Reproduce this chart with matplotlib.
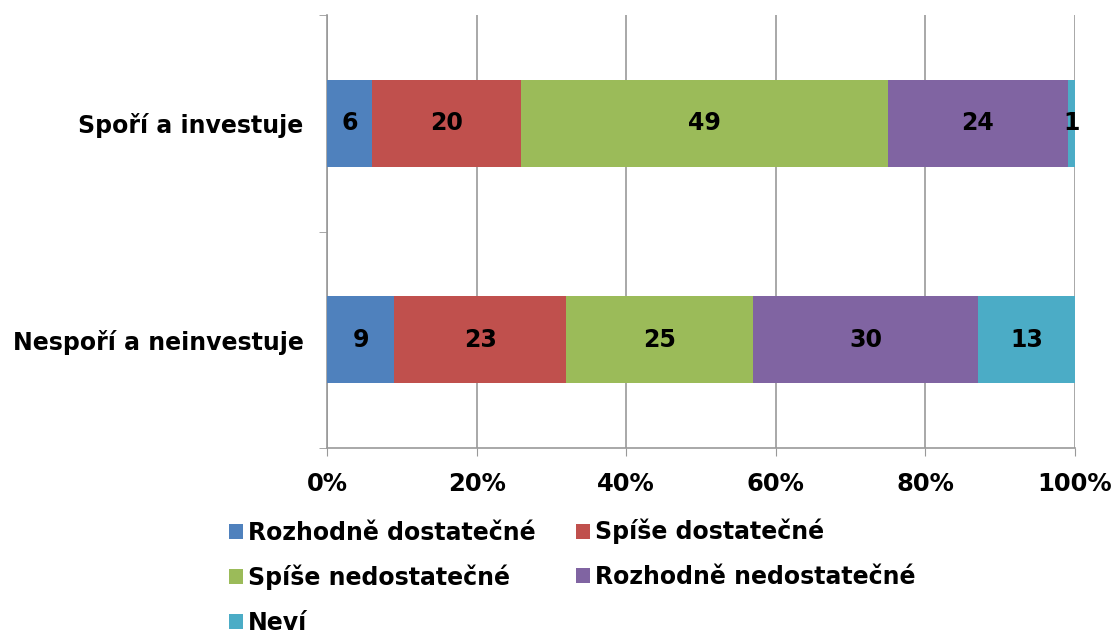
import matplotlib
matplotlib.use("Agg")
import matplotlib.pyplot as plt
import numpy as np

categories = ['Nespoří a neinvestuje', 'Spoří a investuje']
series = ['Rozhodně dostatečné', 'Spíše dostatečné', 'Spíše nedostatečné',
          'Rozhodně nedostatečné', 'Neví']
values = [
    [9, 6],    # Rozhodně dostatečné
    [23, 20],  # Spíše dostatečné
    [25, 49],  # Spíše nedostatečné
    [30, 24],  # Rozhodně nedostatečné
    [13, 1],   # Neví
]
colors = ['#4F81BD', '#C0504D', '#9BBB59', '#8064A2', '#4BACC6']

plt.rcParams['font.family'] = ['DejaVu Sans']
plt.rcParams['font.weight'] = 'bold'

fig = plt.figure(figsize=(11.19, 6.35), dpi=100)
ax = fig.add_axes([327 / 1119, 1 - 448 / 635, (1075 - 327) / 1119, (448 - 15) / 635])

y = np.arange(len(categories))
totals = np.sum(values, axis=0)
left = np.zeros(len(categories))
handles = []
for name, vals, col in zip(series, values, colors):
    pct = np.array(vals) / totals * 100
    bars = ax.barh(y, pct, 0.4, left=left, color=col, label=name, zorder=3)
    handles.append(bars)
    for yi, (l, w, v) in enumerate(zip(left, pct, vals)):
        ax.text(l + w / 2, yi, str(v), ha='center', va='center',
                fontsize=17, fontweight='bold', zorder=4)
    left += pct

ax.set_xlim(0, 100)
ax.set_ylim(-0.5, 1.5)
ax.set_xticks(np.arange(0, 101, 20))
ax.set_xticklabels([f'{t}%' for t in range(0, 101, 20)], fontsize=17.5, fontweight='bold')
ax.set_yticks(y)
ax.set_yticklabels(categories, fontsize=17, fontweight='bold')
ax.set_yticks([-0.5, 0.5, 1.5], minor=True)
ax.tick_params(axis='y', which='major', length=0, pad=17)
ax.tick_params(axis='y', which='minor', length=6, color='#999999')
ax.tick_params(axis='x', length=6, color='#999999', pad=11)
ax.grid(axis='x', color='#999999', linewidth=1.2, zorder=0)
for s in ['top', 'right']:
    ax.spines[s].set_visible(False)
for s in ['left', 'bottom']:
    ax.spines[s].set_color('#999999')
    ax.spines[s].set_linewidth(1.2)

order = [0, 2, 4, 1, 3]
leg = fig.legend([handles[i] for i in order], [series[i] for i in order],
                 ncol=2, loc='upper left', bbox_to_anchor=(229 / 1119, 1 - 519 / 635),
                 frameon=False, fontsize=17, handlelength=0.6, handleheight=0.6,
                 handletextpad=0.2, columnspacing=1.7, labelspacing=0.86,
                 borderaxespad=0, borderpad=0)
for t in leg.get_texts():
    t.set_fontweight('bold')

fig.savefig('out.png', dpi=100)
